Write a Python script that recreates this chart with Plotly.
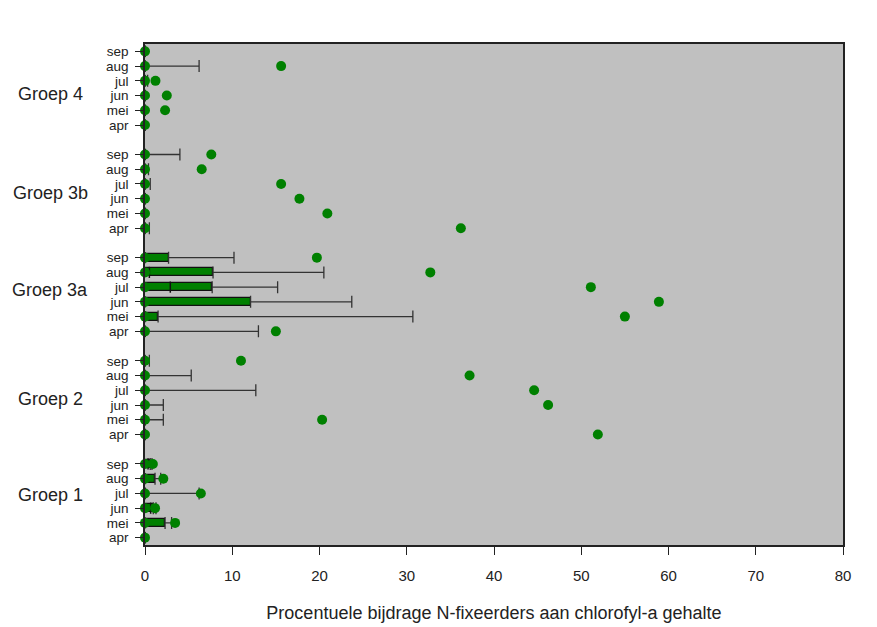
import plotly.graph_objects as go

groups = ["Groep 1", "Groep 2", "Groep 3a", "Groep 3b", "Groep 4"]
months = ["apr", "mei", "jun", "jul", "aug", "sep"]

# per group, per month (apr..sep)
q1 = {
    "Groep 1":  [0, 0, 0, 0, 0, 0],
    "Groep 2":  [0, 0, 0, 0, 0, 0],
    "Groep 3a": [0, 0, 0, 0, 0, 0],
    "Groep 3b": [0, 0, 0, 0, 0, 0],
    "Groep 4":  [0, 0, 0, 0, 0, 0],
}
median = {
    "Groep 1":  [0, 0, 0.65, 0, 0, 0.35],
    "Groep 2":  [0, 0, 0, 0, 0, 0],
    "Groep 3a": [0, 0, 0, 2.9, 0.5, 0],
    "Groep 3b": [0, 0, 0, 0, 0, 0],
    "Groep 4":  [0, 0, 0, 0, 0, 0],
}
q3 = {
    "Groep 1":  [0, 2.3, 0.95, 0, 1.15, 0.6],
    "Groep 2":  [0, 0, 0, 0, 0, 0],
    "Groep 3a": [0, 1.5, 12.1, 7.7, 7.8, 2.7],
    "Groep 3b": [0, 0, 0, 0, 0, 0],
    "Groep 4":  [0, 0, 0, 0, 0, 0],
}
upper = {
    "Groep 1":  [0, 3.05, 1.26, 6.2, 1.8, 0.8],
    "Groep 2":  [0, 2.1, 2.1, 12.7, 5.3, 0.5],
    "Groep 3a": [13.0, 30.7, 23.7, 15.2, 20.5, 10.2],
    "Groep 3b": [0.5, 0, 0, 0.6, 0.4, 4.0],
    "Groep 4":  [0, 0, 0, 0.3, 6.2, 0],
}
minimum = {
    "Groep 1":  [0, 0, 0, 0, 0, 0],
    "Groep 2":  [0, 0, 0, 0, 0, 0],
    "Groep 3a": [0, 0, 0, 0, 0, 0],
    "Groep 3b": [0, 0, 0, 0, 0, 0],
    "Groep 4":  [0, 0, 0, 0, 0, 0],
}
outlier = {
    "Groep 1":  [None, 3.45, 1.15, 6.4, 2.1, 0.9],
    "Groep 2":  [51.9, 20.3, 46.2, 44.6, 37.2, 11.0],
    "Groep 3a": [15.0, 55.0, 58.9, 51.1, 32.7, 19.7],
    "Groep 3b": [36.2, 20.9, 17.7, 15.6, 6.5, 7.6],
    "Groep 4":  [None, 2.3, 2.5, 1.2, 15.6, None],
}
x_ticks = [0, 10, 20, 30, 40, 50, 60, 70, 80]

GREEN = "#008000"

pos, Q1, MED, Q3, UP, MN, OUT, OUTPOS, ticktext = [], [], [], [], [], [], [], [], []
for gi, g in enumerate(groups):
    for mi, m in enumerate(months):
        p = gi * 7 + mi
        pos.append(p)
        ticktext.append(m)
        Q1.append(q1[g][mi]); MED.append(median[g][mi]); Q3.append(q3[g][mi])
        UP.append(upper[g][mi]); MN.append(minimum[g][mi])
        if outlier[g][mi] is not None:
            OUT.append(outlier[g][mi]); OUTPOS.append(p)

fig = go.Figure()

# whiskers with caps
fig.add_trace(go.Scatter(
    x=Q3, y=pos, mode="markers", marker=dict(size=1, opacity=0),
    error_x=dict(type="data", symmetric=False,
                 array=[u - q for u, q in zip(UP, Q3)],
                 arrayminus=[0] * len(Q3),
                 color="#333333", thickness=1.3, width=6),
    hoverinfo="skip", showlegend=False))

# boxes
fig.add_trace(go.Bar(
    x=[b - a for a, b in zip(Q1, Q3)], base=Q1, y=pos, orientation="h",
    width=0.55, marker=dict(color=GREEN, line=dict(color="#111111", width=1.2)),
    showlegend=False))

# medians
fig.add_trace(go.Scatter(
    x=MED, y=pos, mode="markers",
    marker=dict(symbol="line-ns", size=8, line=dict(color="#111111", width=1.5)),
    showlegend=False))

# minimum dots
fig.add_trace(go.Scatter(
    x=MN, y=pos, mode="markers", cliponaxis=False,
    marker=dict(color=GREEN, size=10), showlegend=False))

# outliers
fig.add_trace(go.Scatter(
    x=OUT, y=OUTPOS, mode="markers", cliponaxis=False,
    marker=dict(color=GREEN, size=10), showlegend=False))

label_y = [2.9, 9.4, 16.8, 23.4, 30.1]
annotations = [dict(text=g, x=-0.136, xref="paper", y=ly, yref="y",
                    showarrow=False, xanchor="center", yanchor="middle",
                    font=dict(size=18, color="#222222"))
               for g, ly in zip(groups, label_y)]

fig.update_layout(
    width=877, height=627,
    margin=dict(l=145, r=34, t=44, b=82),
    paper_bgcolor="white", plot_bgcolor="#c0c0c0",
    font=dict(family="Liberation Sans, Arial, sans-serif", color="#222222"),
    bargap=0, annotations=annotations,
    xaxis=dict(range=[0, 80], tickvals=x_ticks, ticks="outside", ticklen=8,
               tickcolor="#222222", showgrid=False, zeroline=False,
               showline=True, linecolor="#222222", linewidth=1.5, mirror=True,
               tickfont=dict(size=15), ticklabelstandoff=8, automargin=False,
               title=dict(text="Procentuele bijdrage N-fixeerders aan chlorofyl-a gehalte",
                          font=dict(size=18), standoff=24)),
    yaxis=dict(range=[-0.5, 33.5], tickvals=pos, ticktext=ticktext,
               ticks="outside", ticklen=8, tickcolor="#222222",
               showgrid=False, zeroline=False, showline=True,
               linecolor="#222222", linewidth=1.5, mirror=True, automargin=False,
               tickfont=dict(size=13.5), ticklabelstandoff=4),
)

fig.write_html("out.html")
